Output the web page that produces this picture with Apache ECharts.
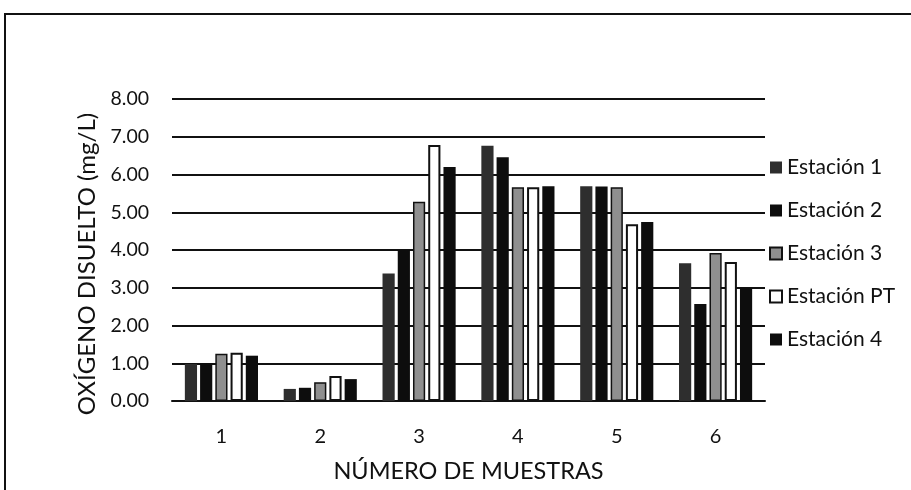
<!DOCTYPE html>
<html>
<head>
<meta charset="utf-8">
<script src="https://cdn.jsdelivr.net/npm/echarts@6/dist/echarts.min.js"></script>
<style>
  html, body { margin: 0; padding: 0; background: #fff; }
  #chart { width: 911px; height: 490px; }
</style>
</head>
<body>
<div id="chart"></div>
<script>
// datos
const muestras = ['1', '2', '3', '4', '5', '6'];
const estaciones = ['Estación 1', 'Estación 2', 'Estación 3', 'Estación PT', 'Estación 4'];
const estacion1 = [0.98, 0.32, 3.38, 6.76, 5.69, 3.65];
const estacion2 = [1.00, 0.35, 4.00, 6.46, 5.68, 2.57];
const estacion3 = [1.25, 0.50, 5.28, 5.66, 5.66, 3.92];
const estacionPT = [1.28, 0.66, 6.78, 5.66, 4.68, 3.68];
const estacion4 = [1.20, 0.58, 6.20, 5.69, 4.74, 3.00];

const valores = [estacion1, estacion2, estacion3, estacionPT, estacion4];
const colores = ['#2e2e2e', '#0d0d0d', '#8f8f8f', '#ffffff', '#0d0d0d'];
const bordes = [0, 0, 1.5, 2, 0];

let chart = echarts.init(document.getElementById('chart'));

const fuente = 'Lato';

let option = {
    animation: false,
    backgroundColor: '#fff',
    textStyle: { fontFamily: fuente, color: '#111' },
    graphic: [{
        type: 'rect',
        shape: { x: 5, y: 14, width: 940, height: 520 },
        style: { fill: 'none', stroke: '#111', lineWidth: 2 }
    }],
    grid: { left: 172, right: 146, top: 99, bottom: 89 },
    legend: {
        orient: 'vertical',
        left: 764,
        top: 152,
        itemWidth: 12,
        itemHeight: 12,
        itemGap: 22,
        icon: 'rect',
        data: estaciones,
        textStyle: { fontFamily: fuente, fontSize: 21, color: '#111' }
    },
    xAxis: {
        type: 'category',
        data: muestras,
        axisTick: { show: false },
        axisLine: { show: true, lineStyle: { color: '#111', width: 2 } },
        axisLabel: { fontSize: 20, color: '#111', margin: 26 },
        name: 'NÚMERO DE MUESTRAS',
        nameLocation: 'middle',
        nameGap: 58,
        nameTextStyle: { fontSize: 23.5, color: '#111' }
    },
    yAxis: {
        type: 'value',
        min: 0,
        max: 8,
        interval: 1,
        axisLine: { show: false },
        axisTick: { show: false },
        splitLine: { lineStyle: { color: '#111', width: 2 } },
        axisLabel: {
            fontSize: 19.5, color: '#111', margin: 23,
            formatter: v => v.toFixed(2)
        },
        name: 'OXÍGENO DISUELTO (mg/L)',
        nameLocation: 'middle',
        nameGap: 73,
        nameTextStyle: { fontSize: 24, color: '#111', padding: [0, 28, 0, 0] }
    },
    series: estaciones.map((nombre, i) => ({
        name: nombre,
        type: 'bar',
        data: valores[i],
        barGap: '25%',
        barCategoryGap: '26%',
        itemStyle: {
            color: colores[i],
            borderColor: '#111',
            borderWidth: bordes[i]
        }
    }))
};

chart.setOption(option);
</script>
</body>
</html>
